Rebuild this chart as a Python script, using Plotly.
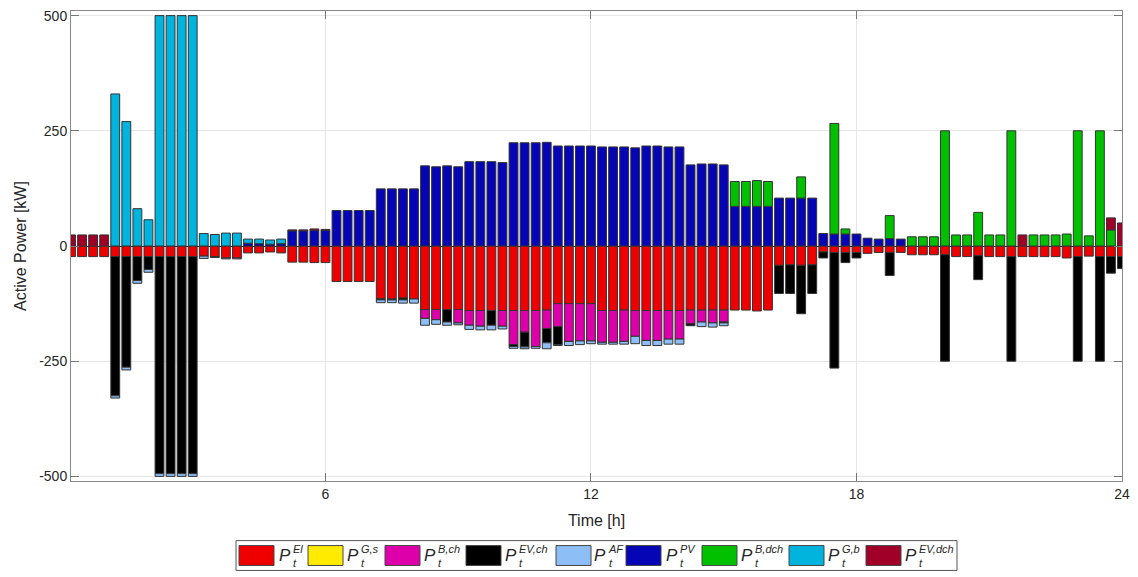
import plotly.graph_objects as go

# ---------------- data (kW), one value per 15-min step, t = 0.25 ... 24 h ----------------
time_h = [0.25 * k for k in range(1, 97)]

P_El = [
    23, 23, 23, 23, 23, 23, 23, 23, 23, 23, 23, 23, 22, 23, 26, 26,
    15, 15, 13, 15, 35, 35, 36, 36, 77, 77, 77, 77, 114, 115, 113, 115,
    138, 138, 138, 138, 140, 140, 140, 140, 140, 140, 140, 139, 125, 125, 125, 125,
    140, 140, 139, 140, 140, 140, 140, 140, 139, 139, 139, 139, 139, 139, 141, 139,
    42, 41, 42, 41, 13, 14, 14, 14, 16, 14, 14, 14, 19, 19, 19, 19,
    23, 23, 21, 23, 23, 23, 23, 23, 23, 23, 26, 23, 22, 23, 23, 23,
]
P_Gs = [
    0, 0, 0, 0, 0, 0, 0, 0, 0, 0, 0, 0, 0, 0, 0, 0,
    0, 0, 0, 0, 0, 0, 0, 0, 0, 0, 0, 0, 0, 0, 0, 0,
    0, 0, 0, 0, 0, 0, 0, 0, 0, 0, 0, 0, 0, 0, 0, 0,
    0, 0, 0, 0, 0, 0, 0, 0, 0, 0, 0, 0, 0, 0, 0, 0,
    0, 0, 0, 0, 0, 0, 0, 0, 0, 0, 0, 0, 0, 0, 0, 0,
    0, 0, 0, 0, 0, 0, 0, 0, 0, 0, 0, 0, 0, 0, 0, 0,
]
P_Bch = [
    0, 0, 0, 0, 0, 0, 0, 0, 0, 0, 0, 0, 0, 0, 0, 0,
    0, 0, 0, 0, 0, 0, 0, 0, 0, 0, 0, 0, 0, 0, 0, 0,
    19, 22, 0, 29, 32, 34, 0, 34, 74, 47, 78, 40, 50, 82, 81, 81,
    69, 69, 68, 56, 65, 65, 62, 62, 30, 26, 28, 26, 0, 0, 0, 0,
    0, 0, 0, 0, 0, 0, 0, 0, 0, 0, 0, 0, 0, 0, 0, 0,
    0, 0, 0, 0, 0, 0, 0, 0, 0, 0, 0, 0, 0, 0, 0, 0,
]
P_EVch = [
    0, 0, 0, 0, 302, 240, 52, 28, 471, 471, 471, 471, 0, 2, 0, 0,
    0, 0, 0, 0, 0, 0, 0, 0, 0, 0, 0, 0, 3, 2, 4, 0,
    0, 0, 27, 0, 0, 0, 32, 0, 4, 32, 0, 31, 39, 0, 0, 0,
    0, 0, 0, 0, 0, 0, 0, 0, 4, 0, 0, 2, 0, 0, 0, 0,
    61, 62, 105, 62, 13, 251, 22, 12, 0, 0, 50, 0, 0, 0, 0, 231,
    0, 0, 52, 0, 0, 227, 0, 0, 0, 0, 0, 227, 0, 227, 36, 26,
]
P_AF = [
    0, 0, 0, 0, 5, 6, 6, 6, 6, 6, 6, 6, 5, 0, 2, 2,
    0, 0, 0, 0, 0, 0, 0, 0, 0, 0, 0, 0, 6, 6, 7, 9,
    15, 10, 7, 4, 9, 8, 10, 6, 4, 4, 4, 13, 2, 9, 8, 6,
    4, 4, 6, 16, 11, 11, 11, 11, 0, 10, 9, 6, 0, 0, 0, 0,
    0, 0, 0, 0, 0, 0, 0, 0, 0, 0, 0, 0, 0, 0, 0, 0,
    0, 0, 0, 0, 0, 0, 0, 0, 0, 0, 0, 0, 0, 0, 0, 0,
]
P_PV = [
    0, 0, 0, 0, 0, 0, 0, 0, 0, 0, 0, 0, 0, 0, 0, 0,
    6, 5, 4, 5, 33, 33, 34, 34, 77, 77, 77, 77, 124, 124, 124, 124,
    174, 172, 174, 172, 183, 183, 183, 181, 224, 224, 224, 225, 217, 217, 217, 217,
    215, 215, 215, 213, 217, 217, 215, 215, 176, 178, 178, 176, 86, 86, 86, 86,
    104, 104, 104, 104, 27, 26, 26, 26, 17, 15, 16, 15, 0, 0, 0, 0,
    0, 0, 0, 0, 0, 0, 0, 0, 0, 0, 0, 0, 0, 0, 0, 0,
]
P_Bdch = [
    0, 0, 0, 0, 0, 0, 0, 0, 0, 0, 0, 0, 0, 0, 0, 0,
    0, 0, 0, 0, 0, 0, 0, 0, 0, 0, 0, 0, 0, 0, 0, 0,
    0, 0, 0, 0, 0, 0, 0, 0, 0, 0, 0, 0, 0, 0, 0, 0,
    0, 0, 0, 0, 0, 0, 0, 0, 0, 0, 0, 0, 54, 54, 56, 54,
    0, 0, 46, 0, 0, 240, 11, 0, 0, 0, 50, 0, 20, 20, 20, 250,
    24, 24, 73, 24, 24, 250, 0, 24, 24, 24, 26, 250, 22, 250, 35, 0,
]
P_Gb = [
    0, 0, 0, 0, 330, 270, 81, 57, 500, 500, 500, 500, 27, 25, 28, 28,
    9, 10, 9, 10, 0, 0, 0, 0, 0, 0, 0, 0, 0, 0, 0, 0,
    0, 0, 0, 0, 0, 0, 0, 0, 0, 0, 0, 0, 0, 0, 0, 0,
    0, 0, 0, 0, 0, 0, 0, 0, 0, 0, 0, 0, 0, 0, 0, 0,
    0, 0, 0, 0, 0, 0, 0, 0, 0, 0, 0, 0, 0, 0, 0, 0,
    0, 0, 0, 0, 0, 0, 0, 0, 0, 0, 0, 0, 0, 0, 0, 0,
]
P_EVdch = [
    24, 24, 24, 24, 0, 0, 0, 0, 0, 0, 0, 0, 0, 0, 0, 0,
    0, 0, 0, 0, 2, 2, 3, 2, 0, 0, 0, 0, 0, 0, 0, 0,
    0, 0, 0, 0, 0, 0, 0, 0, 0, 0, 0, 0, 0, 0, 0, 0,
    0, 0, 0, 0, 0, 0, 0, 0, 0, 0, 0, 0, 0, 0, 0, 0,
    0, 0, 0, 0, 0, 0, 0, 0, 0, 0, 0, 0, 0, 0, 0, 0,
    0, 0, 0, 0, 0, 0, 24, 0, 0, 0, 0, 0, 0, 0, 26, 50,
]

# (values, sign, colour, superscript label)
series = [
    (P_El, -1, "#EE0000", "El"),
    (P_Gs, -1, "#FFEB00", "G,s"),
    (P_Bch, -1, "#DD00AA", "B,ch"),
    (P_EVch, -1, "#000000", "EV,ch"),
    (P_AF, -1, "#8DBEF6", "AF"),
    (P_PV, 1, "#0505B5", "PV"),
    (P_Bdch, 1, "#00C000", "B,dch"),
    (P_Gb, 1, "#00B4DE", "G,b"),
    (P_EVdch, 1, "#A00028", "EV,dch"),
]

FONT = "Arial, Liberation Sans, Helvetica, sans-serif"
TXT = "#262626"

fig = go.Figure()
for vals, sgn, col, sup in series:
    fig.add_trace(go.Bar(
        x=time_h,
        y=[sgn * v if v else None for v in vals],
        width=0.2,
        name="P_t^" + sup,
        marker=dict(color=col, line=dict(color="#333333", width=1)),
        showlegend=False,
    ))

W, H = 1138, 577
L, R, T, B = 71, 16, 8, 96
pw, ph = W - L - R, H - T - B


def px(xp):
    return (xp - L) / pw


def py(yp):
    return (H - B - yp) / ph


shapes = []
annotations = []
# legend frame
shapes.append(dict(type="rect", xref="paper", yref="paper",
                   x0=px(236), x1=px(957), y0=py(571), y1=py(541),
                   line=dict(color="#555555", width=1), fillcolor="white", layer="above"))
sw_left = [239, 308, 385, 466, 556, 626, 702, 789, 866]
lb_left = [282, 350, 427, 508, 597, 669, 744, 831, 908]
for (vals, sgn, col, sup), sx, lx in zip(series, sw_left, lb_left):
    shapes.append(dict(type="rect", xref="paper", yref="paper",
                       x0=px(sx), x1=px(sx + 35), y0=py(566), y1=py(546),
                       line=dict(color="#444444", width=1), fillcolor=col, layer="above"))
    annotations.append(dict(xref="paper", yref="paper", x=px(lx + 10), y=py(556),
                            xanchor="right", yanchor="middle", showarrow=False,
                            borderpad=0,
                            text="<i>P</i>", font=dict(family=FONT, size=17, color=TXT)))
    annotations.append(dict(xref="paper", yref="paper", x=px(lx + 10), y=py(556.5),
                            xanchor="left", yanchor="middle", showarrow=False,
                            align="left", borderpad=0,
                            text="<i>" + sup + "</i><br><i>t</i>",
                            font=dict(family=FONT, size=11, color=TXT)))

fig.update_layout(
    width=W, height=H,
    margin=dict(l=L, r=R, t=T, b=B, pad=0),
    barmode="relative",
    paper_bgcolor="white", plot_bgcolor="white",
    font=dict(family=FONT, size=14, color=TXT),
    shapes=shapes, annotations=annotations,
    xaxis=dict(
        range=[0.25, 24], tickvals=[6, 12, 18, 24],
        ticks="inside", ticklen=8, tickcolor="#777777",
        showgrid=True, gridcolor="#E6E6E6", gridwidth=1,
        showline=True, linecolor="#888888", linewidth=1, mirror="ticks",
        zeroline=False,
        tickfont=dict(size=14, color=TXT),
        title=dict(text="Time [h]", font=dict(size=16, color=TXT), standoff=14),
    ),
    yaxis=dict(
        range=[-510, 510], tickvals=[-500, -250, 0, 250, 500],
        ticktext=["-500", "-250", "0", "250", "500"],
        ticks="inside", ticklen=8, tickcolor="#777777",
        showgrid=True, gridcolor="#E6E6E6", gridwidth=1,
        showline=True, linecolor="#888888", linewidth=1, mirror="ticks",
        zeroline=True, zerolinecolor="#333333", zerolinewidth=1,
        tickfont=dict(size=14, color=TXT),
        title=dict(text="Active Power [kW]", font=dict(size=16, color=TXT), standoff=8),
    ),
)

fig.write_html("out.html")
